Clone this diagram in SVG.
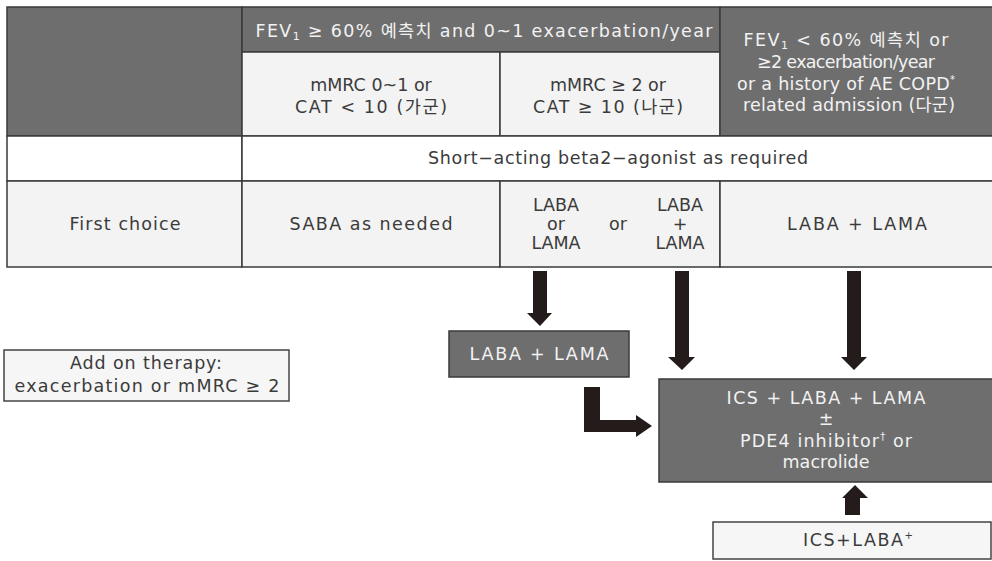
<svg xmlns="http://www.w3.org/2000/svg" width="992" height="561" viewBox="0 0 992 561">
<style>
  text { font-family: "DejaVu Sans", "Noto Sans CJK KR", sans-serif; font-size: 17.5px; text-anchor: middle; }
  .dk { fill: #6e6e6e; stroke: #3a3a3a; stroke-width: 1.5; }
  .lt { fill: #f3f3f3; stroke: #3a3a3a; stroke-width: 1.5; }
  .wh { fill: #ffffff; stroke: #3a3a3a; stroke-width: 1.5; }
  .box { fill: #f6f6f6; stroke: #444; stroke-width: 1.5; }
  .tw { fill: #f2f2f2; }
  .td { fill: #3b3b3b; }
  .arrow { fill: #231c1b; }
  .sup { font-size: 10px; }
</style>

<g id="table">
  <g id="cell-corner"><rect class="dk" x="7" y="7" width="235" height="129"/></g>
  <g id="cell-fev-high">
    <rect class="dk" x="242" y="7" width="478" height="45"/>
    <text class="tw" x="484" y="37" textLength="457" lengthAdjust="spacing">FEV<tspan font-size="11" dy="3">1</tspan><tspan dy="-3"> ≥ 60% 예측치 and 0~1 exacerbation/year</tspan></text>
  </g>
  <g id="cell-ga">
    <rect class="lt" x="242" y="52" width="258" height="84"/>
    <text class="td" x="371" y="91">mMRC 0~1 or</text>
    <text class="td" x="371" y="113" textLength="152" lengthAdjust="spacing">CAT &lt; 10 (가군)</text>
  </g>
  <g id="cell-na">
    <rect class="lt" x="500" y="52" width="220" height="84"/>
    <text class="td" x="608" y="91">mMRC ≥ 2 or</text>
    <text class="td" x="608" y="113" textLength="150" lengthAdjust="spacing">CAT ≥ 10 (나군)</text>
  </g>
  <g id="cell-da">
    <rect class="dk" x="720" y="7" width="274" height="129"/>
    <text class="tw" x="846" y="46" textLength="205" lengthAdjust="spacing">FEV<tspan font-size="11" dy="3">1</tspan><tspan dy="-3"> &lt; 60% 예측치 or</tspan></text>
    <text class="tw" x="846" y="68" textLength="178" lengthAdjust="spacing">≥2 exacerbation/year</text>
    <text class="tw" x="846" y="90" textLength="218" lengthAdjust="spacing">or a history of AE COPD<tspan class="sup" dy="-7">*</tspan></text>
    <text class="tw" x="849" y="111" textLength="212" lengthAdjust="spacing">related admission (다군)</text>
  </g>
  <g id="row-saba-label"><rect class="wh" x="7" y="136" width="235" height="45"/></g>
  <g id="row-saba">
    <rect class="wh" x="242" y="136" width="752" height="45"/>
    <text class="td" x="618" y="164" textLength="380" lengthAdjust="spacing">Short−acting beta2−agonist as required</text>
  </g>
  <g id="cell-first-choice">
    <rect class="lt" x="7" y="181" width="235" height="86"/>
    <text class="td" x="125" y="230" textLength="111" lengthAdjust="spacing">First choice</text>
  </g>
  <g id="cell-saba">
    <rect class="lt" x="242" y="181" width="258" height="86"/>
    <text class="td" x="371" y="230" textLength="163" lengthAdjust="spacing">SABA as needed</text>
  </g>
  <g id="cell-laba-lama">
    <rect class="lt" x="500" y="181" width="220" height="86"/>
    <text class="td" x="556" y="211">LABA</text>
    <text class="td" x="556" y="230">or</text>
    <text class="td" x="556" y="249">LAMA</text>
    <text class="td" x="618" y="230">or</text>
    <text class="td" x="680" y="211">LABA</text>
    <text class="td" x="680" y="230">+</text>
    <text class="td" x="680" y="249">LAMA</text>
  </g>
  <g id="cell-laba-plus-lama">
    <rect class="lt" x="720" y="181" width="274" height="86"/>
    <text class="td" x="857" y="230" textLength="140" lengthAdjust="spacing">LABA + LAMA</text>
  </g>
</g>

<g id="node-addon">
  <rect class="box" x="4" y="350" width="285" height="51"/>
  <text class="td" x="146" y="369" textLength="152" lengthAdjust="spacing">Add on therapy:</text>
  <text class="td" x="147" y="392" textLength="265" lengthAdjust="spacing">exacerbation or mMRC ≥ 2</text>
</g>

<g id="node-laba-lama">
  <rect class="dk" x="449" y="331" width="180" height="46"/>
  <text class="tw" x="539" y="360" textLength="139" lengthAdjust="spacing">LABA + LAMA</text>
</g>

<g id="node-triple">
  <rect class="dk" x="659" y="379" width="336" height="103"/>
  <text class="tw" x="826" y="404" textLength="199" lengthAdjust="spacing">ICS + LABA + LAMA</text>
  <text class="tw" x="826" y="425">±</text>
  <text class="tw" x="826" y="447" textLength="172" lengthAdjust="spacing">PDE4 inhibitor<tspan class="sup" dy="-7">†</tspan><tspan dy="7"> or</tspan></text>
  <text class="tw" x="826" y="468" textLength="87" lengthAdjust="spacing">macrolide</text>
</g>

<g id="node-ics-laba">
  <rect class="box" x="713" y="522" width="278" height="37"/>
  <text class="td" x="858" y="546" textLength="110" lengthAdjust="spacing">ICS+LABA<tspan class="sup" dy="-7">+</tspan></text>
</g>

<g id="connectors">
  <polygon class="arrow" points="533,271 547,271 547,313 552,313 540,326 527,313 533,313"/>
  <polygon class="arrow" points="675,271 689,271 689,357 695,357 682,370 668,357 675,357"/>
  <polygon class="arrow" points="847,271 861,271 861,357 867,357 854,370 841,357 847,357"/>
  <polygon class="arrow" points="584,387 600,387 600,420 636,420 636,415 652,426 636,437 636,432 584,432"/>
  <polygon class="arrow" points="845,515 860,515 860,498 868,498 855,485 842,498 845,498"/>
</g>
</svg>
